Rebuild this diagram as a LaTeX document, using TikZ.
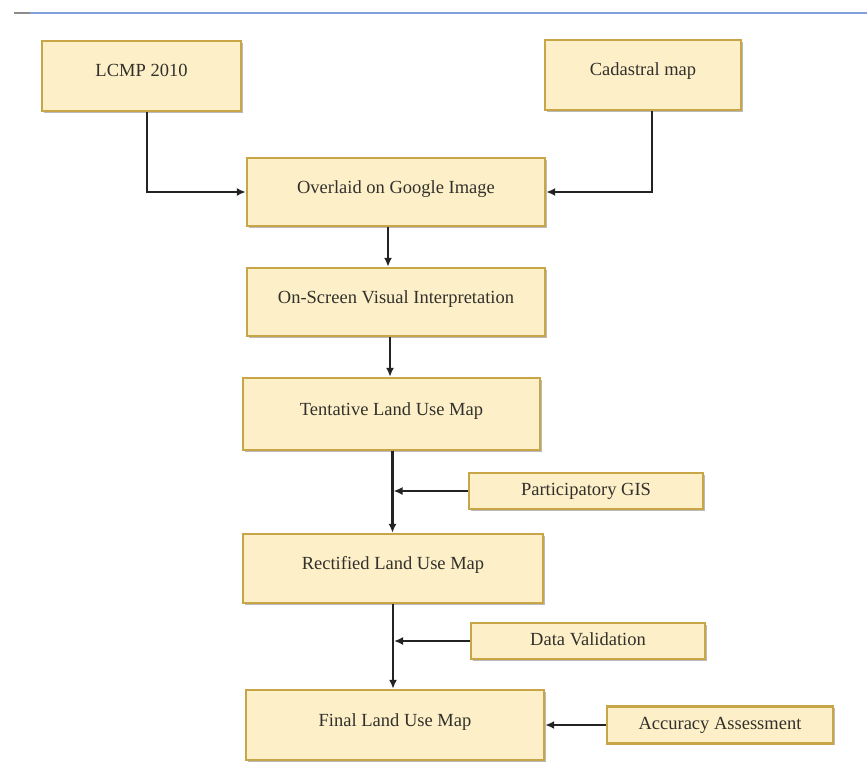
\documentclass[tikz,border=0pt]{standalone}
\usepackage{fontspec}
\setmainfont{Liberation Serif}
\usetikzlibrary{arrows.meta,calc,shadows}
\definecolor{boxfill}{RGB}{253,240,200}
\definecolor{boxedge}{RGB}{200,165,70}
\definecolor{txtcol}{RGB}{50,48,44}
\definecolor{linecol}{RGB}{35,35,35}
\definecolor{topblue}{RGB}{130,160,220}
\begin{document}
\begin{tikzpicture}[x=1pt,y=-1pt,
  box/.style={draw=boxedge, line width=2.4pt, fill=boxfill, rectangle,
    inner sep=0pt, text=txtcol, font=\fontsize{18.5}{20}\selectfont,
    text height=12pt, text depth=10pt,
    drop shadow={shadow xshift=1.8pt, shadow yshift=-1.8pt, fill=black!60, opacity=0.45}},
  smallbox/.style={box, text height=12pt, text depth=4pt},
  conn/.style={draw=linecol, line width=2.2pt},
  arr/.style={conn, -{Latex[length=9pt,width=8pt]}}
]
\useasboundingbox (0,0) rectangle (867,765);
\fill[white] (0,0) rectangle (867,765);
% top rule
\draw[topblue, line width=2pt] (30,13) -- (867,13);
\draw[black!45, line width=1.5pt] (14,13) -- (30,13);

\node[box, minimum width=199pt, minimum height=70pt] (lcmp) at (141.5,76) {LCMP 2010};
\node[box, minimum width=196pt, minimum height=70pt] (cad) at (643,75) {Cadastral map};
\node[box, minimum width=298pt, minimum height=68pt] (over) at (396,192) {Overlaid on Google Image};
\node[box, minimum width=298pt, minimum height=68pt] (onscr) at (396,302) {On-Screen Visual Interpretation};
\node[box, minimum width=297pt, minimum height=72pt] (tent) at (391.5,414) {Tentative Land Use Map};
\node[smallbox, minimum width=234pt, minimum height=36pt] (pgis) at (586,491) {Participatory GIS};
\node[box, minimum width=300pt, minimum height=69pt] (rect) at (393,568.5) {Rectified Land Use Map};
\node[smallbox, minimum width=234pt, minimum height=36pt] (dv) at (588,641) {Data Validation};
\node[box, minimum width=298pt, minimum height=70pt] (final) at (395,725) {Final Land Use Map};
\node[smallbox, minimum width=226pt, minimum height=37pt] (acc) at (720,725) {Accuracy Assessment};

% connectors
\draw[arr] ($(lcmp.south)+(5.5,0)$) |- (over.west);
\draw[arr] ($(cad.south)+(9,0)$) |- (over.east);
\draw[arr] ($(over.south)+(-8,0)$) -- ($(onscr.north)+(-8,0)$);
\draw[arr] ($(onscr.south)+(-6,0)$) -- ($(tent.north)+(-1.5,0)$);
\draw[arr] ($(tent.south)+(1,0)$) -- ($(rect.north)+(-0.5,0)$);
\coordinate (j1) at ($(pgis.west -| tent.south)+(2,0)$);
\draw[arr] (pgis.west) -- (j1);
\draw[arr] ($(rect.south)+(0,0)$) -- ($(final.north)+(-2,0)$);
\coordinate (j2) at ($(dv.west -| rect.south)+(1,0)$);
\draw[arr] (dv.west) -- (j2);
\draw[arr] (acc.west) -- (final.east);
\end{tikzpicture}
\end{document}
